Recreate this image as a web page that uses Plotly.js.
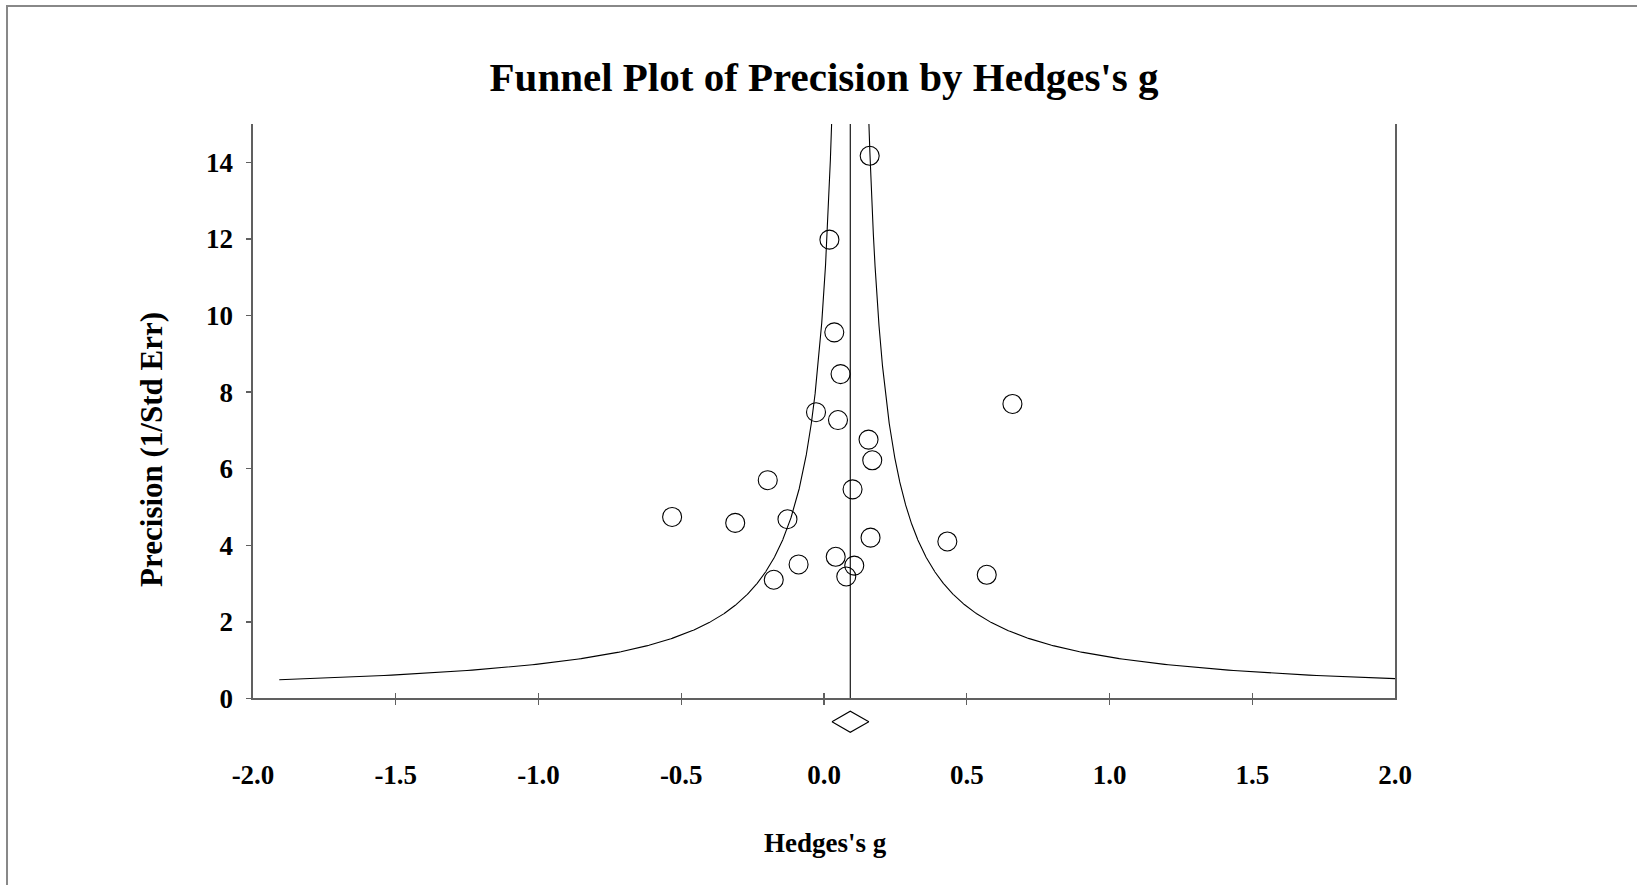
<!DOCTYPE html>
<html>
<head>
<meta charset="utf-8">
<script src="https://cdn.plot.ly/plotly-3.0.1.min.js"></script>
<style>
  html, body { margin: 0; padding: 0; background: #ffffff; }
  #chart { width: 1637px; height: 885px; }
</style>
</head>
<body>
<div id="chart"></div>
<script>
// ---- Data ----
const studyG = [0.160, 0.019, 0.036, 0.058, 0.660, -0.028, 0.049, 0.156, 0.169, -0.197, 0.100,
                -0.532, -0.311, -0.128, 0.163, 0.432, 0.041, -0.089, 0.106, 0.078, -0.176, 0.570];
const studyPrecision = [14.17, 11.98, 9.56, 8.47, 7.69, 7.475, 7.27, 6.76, 6.22, 5.70, 5.46,
                4.74, 4.585, 4.68, 4.20, 4.10, 3.70, 3.50, 3.47, 3.185, 3.10, 3.23];

const combinedEffect = 0.092;      // vertical line / diamond centre
const combinedLower = 0.028;       // diamond left tip
const combinedUpper = 0.157;       // diamond right tip
const funnelHalfWidthAtUnitPrecision = 0.98; // funnel limit = effect +/- k / precision
const funnelPrecisionMin = 0.49;
const funnelPrecisionMax = 15;

const xTickVals = [-2.0, -1.5, -1.0, -0.5, 0.0, 0.5, 1.0, 1.5, 2.0];
const xTickText = ["-2.0", "-1.5", "-1.0", "-0.5", "0.0", "0.5", "1.0", "1.5", "2.0"];
const xTickMarks = [-1.5, -1.0, -0.5, 0.0, 0.5, 1.0, 1.5];
const yTickVals = [0, 2, 4, 6, 8, 10, 12, 14];
const yTickText = ["0", "2", "4", "6", "8", "10", "12", "14"];

const titleText = "Funnel Plot of Precision by Hedges's g";
const xTitleText = "Hedges's g";
const yTitleText = "Precision (1/Std Err)";

// ---- Funnel limits (derived from the combined effect) ----
const funnelP = [];
for (let p = funnelPrecisionMin; p <= funnelPrecisionMax + 1e-9; p += 0.01) funnelP.push(p);
const funnelLeft = funnelP.map(p => combinedEffect - funnelHalfWidthAtUnitPrecision / p);
const funnelRight = funnelP.map(p => combinedEffect + funnelHalfWidthAtUnitPrecision / p);

const FONT = "Liberation Serif, Times New Roman, serif";
const AXC = "#606060";

const traces = [
  { x: funnelLeft, y: funnelP, mode: "lines", line: { color: "#000", width: 1.1 }, hoverinfo: "skip", xaxis: "x", yaxis: "y" },
  { x: funnelRight, y: funnelP, mode: "lines", line: { color: "#000", width: 1.1 }, hoverinfo: "skip", xaxis: "x", yaxis: "y" },
  { x: [combinedEffect, combinedEffect], y: [0, funnelPrecisionMax], mode: "lines", line: { color: "#000", width: 1.1 }, hoverinfo: "skip", xaxis: "x", yaxis: "y" },
  { x: studyG, y: studyPrecision, mode: "markers", type: "scatter",
    marker: { symbol: "circle-open", size: 19, color: "#000", line: { color: "#000", width: 1.1 } },
    xaxis: "x", yaxis: "y" },
  { x: [combinedLower, combinedEffect, combinedUpper, combinedEffect, combinedLower],
    y: [0, 0.5, 0, -0.5, 0], mode: "lines", line: { color: "#000", width: 1.1 },
    hoverinfo: "skip", xaxis: "x2", yaxis: "y2" },
  { x: [], y: [], mode: "markers", xaxis: "x3", yaxis: "y", hoverinfo: "skip" },
  { x: [], y: [], mode: "markers", xaxis: "x4", yaxis: "y", hoverinfo: "skip" }
];

const yMainBottom = 0.0749;

const layout = {
  width: 1637, height: 885,
  margin: { l: 253, r: 242, t: 124, b: 140 },
  paper_bgcolor: "#ffffff", plot_bgcolor: "#ffffff",
  showlegend: false,
  title: {
    text: titleText,
    font: { family: FONT, size: 41, weight: "bold", color: "#000" },
    x: 0.5, xref: "paper", xanchor: "center",
    y: 0.913, yref: "container", yanchor: "middle"
  },
  xaxis: {
    domain: [0, 1], range: [-2, 2], anchor: "y",
    tickmode: "array", tickvals: xTickVals, ticktext: xTickText,
    ticks: "", showline: true, linecolor: AXC, linewidth: 1.6,
    showgrid: false, zeroline: false,
    tickfont: { family: FONT, size: 27, weight: "bold", color: "#000" },
    ticklabelstandoff: 52
  },
  xaxis3: {
    overlaying: "x", anchor: "y", range: [-2, 2],
    tickmode: "array", tickvals: xTickMarks, ticks: "outside", ticklen: 5.5,
    tickcolor: AXC, tickwidth: 1.3, showticklabels: false,
    showline: false, showgrid: false, zeroline: false
  },
  xaxis4: {
    overlaying: "x", anchor: "y", range: [-2, 2],
    tickmode: "array", tickvals: xTickMarks, ticks: "inside", ticklen: 5.5,
    tickcolor: AXC, tickwidth: 1.3, showticklabels: false,
    showline: false, showgrid: false, zeroline: false
  },
  yaxis: {
    domain: [yMainBottom, 1], range: [0, 15], anchor: "x",
    tickmode: "array", tickvals: yTickVals, ticktext: yTickText,
    ticks: "outside", ticklen: 5, tickcolor: AXC, tickwidth: 1.3,
    showline: true, mirror: true, linecolor: AXC, linewidth: 1.6,
    showgrid: false, zeroline: false,
    tickfont: { family: FONT, size: 27, weight: "bold", color: "#000" },
    ticklabelstandoff: 8
  },
  xaxis2: { domain: [0, 1], range: [-2, 2], anchor: "y2", visible: false },
  yaxis2: { domain: [0, yMainBottom], range: [-1.1, 1.1], anchor: "x2", visible: false },
  annotations: [
    { text: yTitleText, textangle: -90, xref: "paper", yref: "paper",
      x: -0.0890, y: 0.4758, xanchor: "center", yanchor: "middle", showarrow: false,
      font: { family: FONT, size: 31, weight: "bold", color: "#000" } },
    { text: xTitleText, xref: "paper", yref: "paper",
      x: 0.5017, y: -0.158, xanchor: "center", yanchor: "middle", showarrow: false,
      font: { family: FONT, size: 27, weight: "bold", color: "#000" } }
  ],
  shapes: [
    { type: "rect", xref: "paper", yref: "paper", x0: -0.2154, x1: 1.3, y0: -0.5, y1: 1.190,
      line: { color: "#888888", width: 2 }, fillcolor: "rgba(0,0,0,0)", layer: "below" }
  ]
};

Plotly.newPlot("chart", traces, layout, { displayModeBar: false, staticPlot: true });
</script>
</body>
</html>
